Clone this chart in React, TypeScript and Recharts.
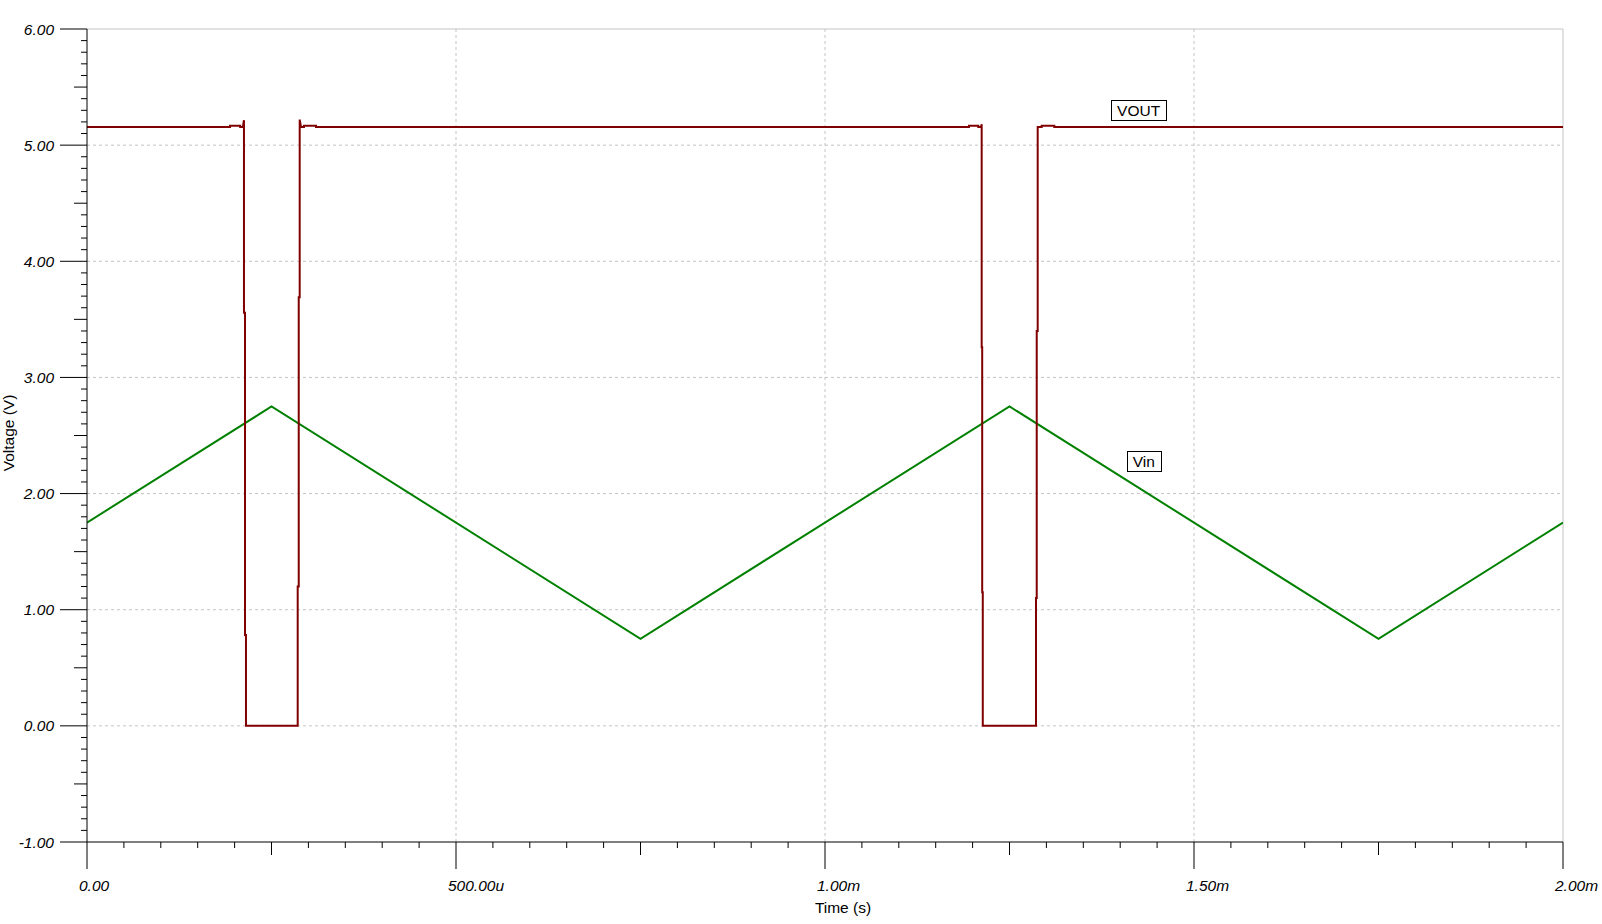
import {
  CartesianGrid,
  Line,
  LineChart,
  ReferenceDot,
  ReferenceLine,
  XAxis,
  YAxis,
} from "recharts";

const FONT = "Arial, 'Liberation Sans', sans-serif";
const FONT_SIZE = 15.5;
const AXIS_COLOR = "#000000";
const GRID_COLOR = "#c4c4c4";
const VOUT_COLOR = "#800000";
const VIN_COLOR = "#008000";

// time in ms, voltage in V
const VIN_TIME = [0, 0.25, 0.75, 1.25, 1.75, 2.0];
const VIN_VOLTS = [1.75, 2.75, 0.75, 2.75, 0.75, 1.75];

const VOUT_TIME = [
  0, 0.1938, 0.1938, 0.2075, 0.2075, 0.2112, 0.2127, 0.2127, 0.2141, 0.2141, 0.2154, 0.2154,
  0.2855, 0.2855, 0.2869, 0.2869, 0.2882, 0.2882, 0.29, 0.294, 0.294, 0.3103, 0.3103,
  1.1951, 1.1951, 1.2077, 1.2077, 1.2114, 1.2123, 1.2123, 1.213, 1.213, 1.2138, 1.2138,
  1.2859, 1.2859, 1.2869, 1.2869, 1.2882, 1.2882, 1.2936, 1.2936, 1.3107, 1.3107, 2.0,
];
const VOUT_VOLTS = [
  5.157, 5.157, 5.166, 5.166, 5.157, 5.157, 5.214, 3.556, 3.556, 0.782, 0.782, 0,
  0, 1.2, 1.2, 3.69, 3.69, 5.22, 5.157, 5.157, 5.166, 5.166, 5.157,
  5.157, 5.166, 5.166, 5.157, 5.157, 5.18, 3.26, 3.26, 1.15, 1.15, 0,
  0, 1.1, 1.1, 3.4, 3.4, 5.157, 5.157, 5.166, 5.166, 5.157, 5.157,
];

const X_LABELS = ["0.00", "500.00u", "1.00m", "1.50m", "2.00m"];
const Y_LABELS = ["-1.00", "0.00", "1.00", "2.00", "3.00", "4.00", "5.00", "6.00"];
const GRID_X = [0.5, 1, 1.5];
const GRID_Y = [0, 1, 2, 3, 4, 5];

const SERIES_NAMES = ["VOUT", "Vin"];
const SERIES_NAME_TIME = [1.425, 1.432];
const SERIES_NAME_VOLTS = [5.3, 2.28];

const vinData = VIN_TIME.map((t, i) => ({ t, v: VIN_VOLTS[i] }));
const voutData = VOUT_TIME.map((t, i) => ({ t, v: VOUT_VOLTS[i] }));

// 10 small divisions per major step, medium tick at half
const xTicks = Array.from({ length: 41 }, (_, i) => i * 0.05);
const yTicks = Array.from({ length: 71 }, (_, i) => -1 + i * 0.1);

function tickLength(step: number) {
  if (step % 10 === 0) return 27;
  if (step % 5 === 0) return 13;
  return 6;
}

function XTick(props: any) {
  const { x, y, payload } = props;
  const step = Math.round(payload.value / 0.05);
  const len = tickLength(step);
  return (
    <g>
      <line x1={x} x2={x} y1={y} y2={y + len} stroke={AXIS_COLOR} strokeWidth={1} />
      {step % 10 === 0 && (
        <text
          x={x - 8}
          y={y + 49}
          textAnchor="start"
          fontFamily={FONT}
          fontSize={FONT_SIZE}
          fontStyle="italic"
          fill="#000"
        >
          {X_LABELS[step / 10]}
        </text>
      )}
    </g>
  );
}

function YTick(props: any) {
  const { x, y, payload } = props;
  const step = Math.round((payload.value + 1) / 0.1);
  const len = tickLength(step);
  return (
    <g>
      <line x1={x - len} x2={x} y1={y} y2={y} stroke={AXIS_COLOR} strokeWidth={1} />
      {step % 10 === 0 && (
        <text
          x={x - 33}
          y={y + 5.5}
          textAnchor="end"
          fontFamily={FONT}
          fontSize={FONT_SIZE}
          fontStyle="italic"
          fill="#000"
        >
          {Y_LABELS[step / 10]}
        </text>
      )}
    </g>
  );
}

function textWidth(s: string) {
  const ctx = document.createElement("canvas").getContext("2d");
  if (!ctx) return s.length * 10;
  ctx.font = `${FONT_SIZE}px ${FONT}`;
  return ctx.measureText(s).width;
}

function boxedName(name: string) {
  return (props: any) => {
    const { cx, cy } = props;
    const w = Math.round(textWidth(name) + 12);
    const h = 20;
    return (
      <g>
        <rect
          x={Math.round(cx - w / 2) + 0.5}
          y={Math.round(cy - h / 2) + 0.5}
          width={w}
          height={h}
          fill="#fff"
          stroke="#000"
          strokeWidth={1}
        />
        <text x={cx} y={cy + 5.5} textAnchor="middle" fontFamily={FONT} fontSize={FONT_SIZE} fill="#000">
          {name}
        </text>
      </g>
    );
  };
}

export default function App() {
  return (
    <div style={{ position: "absolute", left: 0, top: 0, background: "#fff" }}>
      <LineChart width={1602} height={924} margin={{ top: 29, right: 39, bottom: 0, left: 0 }}>
        <CartesianGrid
          horizontalValues={GRID_Y}
          verticalValues={GRID_X}
          stroke={GRID_COLOR}
          strokeDasharray="3 3"
        />
        <ReferenceLine y={6} stroke={GRID_COLOR} strokeWidth={1} />
        <ReferenceLine x={2} stroke={GRID_COLOR} strokeWidth={1} />
        <XAxis
          dataKey="t"
          type="number"
          domain={[0, 2]}
          allowDataOverflow
          ticks={xTicks}
          interval={0}
          tick={XTick}
          tickLine={false}
          tickSize={0}
          tickMargin={0}
          height={82}
          axisLine={{ stroke: AXIS_COLOR, strokeWidth: 1 }}
          label={{
            content: (p: any) => {
              const vb = p.viewBox ?? { x: 87, y: 842, width: 1476, height: 82 };
              return (
                <text
                  x={vb.x + vb.width / 2 + 18}
                  y={vb.y + 71}
                  textAnchor="middle"
                  fontFamily={FONT}
                  fontSize={FONT_SIZE}
                  fill="#000"
                >
                  Time (s)
                </text>
              );
            },
          }}
        />
        <YAxis
          type="number"
          domain={[-1, 6]}
          allowDataOverflow
          ticks={yTicks}
          interval={0}
          tick={YTick}
          tickLine={false}
          tickSize={0}
          tickMargin={0}
          width={87}
          axisLine={{ stroke: AXIS_COLOR, strokeWidth: 1 }}
          label={{
            content: (p: any) => {
              const vb = p.viewBox ?? { x: 0, y: 29, width: 87, height: 813 };
              const cy = vb.y + vb.height / 2 - 2.5;
              return (
                <text
                  x={13.5}
                  y={cy}
                  transform={`rotate(-90, 13.5, ${cy})`}
                  textAnchor="middle"
                  fontFamily={FONT}
                  fontSize={FONT_SIZE}
                  fill="#000"
                >
                  Voltage (V)
                </text>
              );
            },
          }}
        />
        <Line
          data={vinData}
          dataKey="v"
          type="linear"
          stroke={VIN_COLOR}
          strokeWidth={2}
          dot={false}
          isAnimationActive={false}
        />
        <Line
          data={voutData}
          dataKey="v"
          type="linear"
          stroke={VOUT_COLOR}
          strokeWidth={2}
          dot={false}
          isAnimationActive={false}
        />
        {SERIES_NAMES.map((name, i) => (
          <ReferenceDot
            key={name}
            x={SERIES_NAME_TIME[i]}
            y={SERIES_NAME_VOLTS[i]}
            r={0}
            ifOverflow="visible"
            shape={boxedName(name)}
          />
        ))}
      </LineChart>
    </div>
  );
}
